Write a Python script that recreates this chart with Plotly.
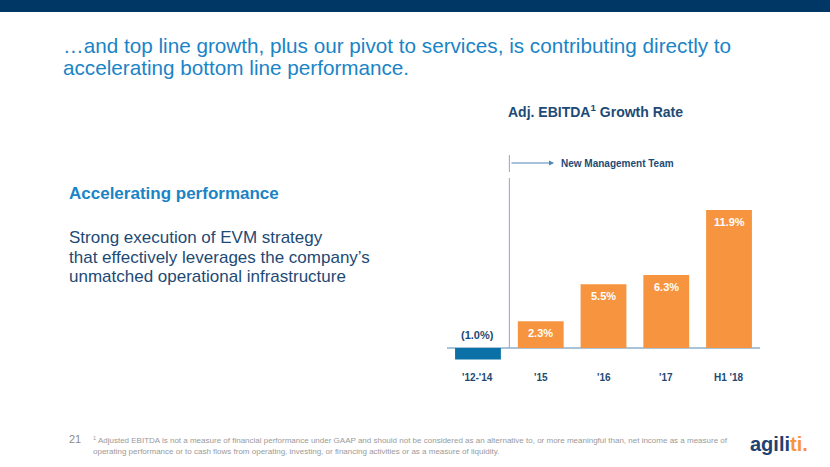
import plotly.graph_objects as go

categories = ["'12-'14", "'15", "'16", "'17", "H1 '18"]
growth = [-1.0, 2.3, 5.5, 6.3, 11.9]
labels = ["(1.0%)", "2.3%", "5.5%", "6.3%", "11.9%"]
bar_colors = ["#0B70A6", "#F7943F", "#F7943F", "#F7943F", "#F7943F"]

title_lines = ["…and top line growth, plus our pivot to services, is contributing directly to",
               "accelerating bottom line performance."]
body_lines = ["Strong execution of EVM strategy",
              "that effectively leverages the company’s",
              "unmatched operational infrastructure"]

W, H = 830, 467
FONT = "Liberation Sans, Arial, sans-serif"
NAVY = "#1D4A75"
BLUE = "#1A84C6"

def px(x):
    return x / W

def py(y):
    return 1 - y / H

fig = go.Figure()
fig.add_trace(go.Bar(
    x=categories, y=growth, marker=dict(color=bar_colors, line=dict(width=0)),
    width=0.73, hoverinfo="skip", showlegend=False,
))

# data labels
for c, v, t in zip(categories, growth, labels):
    if v < 0:
        fig.add_annotation(x=c, y=0, text="<b>" + t + "</b>", showarrow=False,
                           yanchor="bottom", yshift=5, xref="x", yref="y",
                           font=dict(family=FONT, size=11, color=NAVY))
    else:
        fig.add_annotation(x=c, y=v, text="<b>" + t + "</b>", showarrow=False,
                           yanchor="top", yshift=-4, xref="x", yref="y",
                           font=dict(family=FONT, size=11, color="white"))

x0, x1 = 446.6, 760.4
ymin, ymax = -1.5, 13.0
y_bottom = 348 + 1.5 * 11.6
y_top = 348 - 13.0 * 11.6

fig.update_layout(
    width=W, height=H, margin=dict(l=0, r=0, t=0, b=0),
    paper_bgcolor="white", plot_bgcolor="rgba(0,0,0,0)",
    xaxis=dict(domain=[px(x0), px(x1)], showgrid=False, zeroline=False,
               showline=False, ticks="", showticklabels=False, fixedrange=True),
    yaxis=dict(domain=[py(y_bottom), py(y_top)], range=[ymin, ymax], showgrid=False,
               zeroline=True, zerolinecolor="#A9C4D9", zerolinewidth=1.5,
               showticklabels=False, fixedrange=True),
    font=dict(family=FONT),
)

# category labels
for c in categories:
    fig.add_annotation(x=c, y=py(377), xref="x", yref="paper", text="<b>" + c + "</b>",
                       showarrow=False, yanchor="middle",
                       font=dict(family=FONT, size=10, color=NAVY))

# top dark band
fig.add_shape(type="rect", xref="paper", yref="paper", x0=0, x1=1, y0=py(12), y1=1,
              fillcolor="#003764", line=dict(width=0), layer="below")

# vertical divider (new management)
fig.add_shape(type="line", xref="x", yref="paper", x0=0.5, x1=0.5, y0=py(155), y1=py(172),
              line=dict(color="#8FA9C2", width=1))
fig.add_shape(type="line", xref="x", yref="paper", x0=0.5, x1=0.5, y0=py(178), y1=py(348),
              line=dict(color="#8FA9C2", width=1))
# arrow
fig.add_annotation(x=px(554), y=py(163), xref="paper", yref="paper", ax=-44, ay=0,
                   text="", showarrow=True, arrowhead=2, arrowsize=1, arrowwidth=1,
                   arrowcolor="#4C86B5")
fig.add_annotation(x=px(559), y=py(163), xref="paper", yref="paper", xanchor="left",
                   yanchor="middle",
                   text="<b>New Management Team</b>", showarrow=False,
                   font=dict(family=FONT, size=10, color=NAVY))

# chart title
fig.add_annotation(x=px(506), y=py(111), xref="paper", yref="paper", xanchor="left",
                   yanchor="middle",
                   text="<b>Adj. EBITDA<sup>1</sup> Growth Rate</b>", showarrow=False,
                   font=dict(family=FONT, size=14, color=NAVY))

# slide title
for i, line in enumerate(title_lines):
    fig.add_annotation(x=px(61), y=py(45 + 22.5 * i), xref="paper", yref="paper",
                       xanchor="left", yanchor="middle", text=line, showarrow=False,
                       font=dict(family=FONT, size=20.7, color=BLUE))

# left text
fig.add_annotation(x=px(67), y=py(193), xref="paper", yref="paper", xanchor="left",
                   yanchor="middle",
                   text="<b>Accelerating performance</b>", showarrow=False,
                   font=dict(family=FONT, size=17, color=BLUE))
for i, line in enumerate(body_lines):
    fig.add_annotation(x=px(67), y=py(237.5 + 19.5 * i), xref="paper", yref="paper",
                       xanchor="left", yanchor="middle", text=line, showarrow=False,
                       font=dict(family=FONT, size=17, color=NAVY))

# footer
fig.add_annotation(x=px(67), y=py(439), xref="paper", yref="paper", xanchor="left",
                   yanchor="middle",
                   text="21", showarrow=False, font=dict(family=FONT, size=11, color="#8C8C8C"))
fig.add_annotation(x=px(91), y=py(445), xref="paper", yref="paper", xanchor="left",
                   yanchor="middle", align="left",
                   text="<sup>1</sup> Adjusted EBITDA is not a measure of financial performance under GAAP and should not be considered as an alternative to, or more meaningful than, net income as a measure of<br>operating performance or to cash flows from operating, investing, or financing activities or as a measure of liquidity.",
                   showarrow=False, font=dict(family=FONT, size=8, color="#9A9A9A"))
fig.add_annotation(x=px(779), y=py(444), xref="paper", yref="paper", xanchor="center",
                   yanchor="middle",
                   text="<b>agili<span style='color:#F7943F'>ti.</span></b>",
                   showarrow=False, font=dict(family=FONT, size=20, color="#1F4270"))

fig.write_html("out.html", config={"displayModeBar": False},
               post_script="document.body.style.margin='0';document.body.style.padding='0';")
